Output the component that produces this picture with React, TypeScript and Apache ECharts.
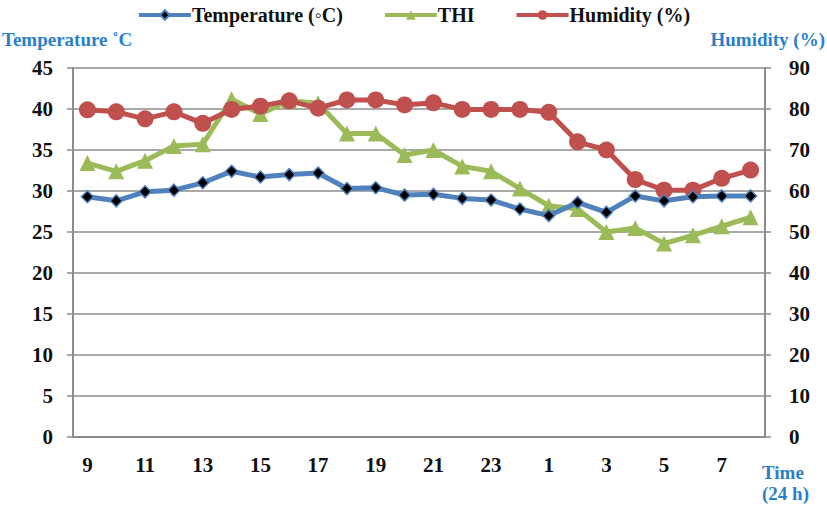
import React, { useEffect, useRef } from "react";
import * as echarts from "echarts";

const hours = ["9","10","11","12","13","14","15","16","17","18","19","20","21","22","23","0","1","2","3","4","5","6","7","8"];
const temperature = [29.3,28.8,29.9,30.1,31.0,32.4,31.7,32.0,32.2,30.3,30.4,29.5,29.6,29.1,28.9,27.8,27.0,28.6,27.4,29.4,28.8,29.3,29.4,29.4];
const thi = [33.4,32.4,33.7,35.5,35.7,41.2,39.4,41.0,40.7,37.0,37.0,34.4,35.0,33.0,32.4,30.3,28.2,27.8,25.0,25.5,23.6,24.6,25.7,26.8];
const humidity = [79.8,79.3,77.6,79.3,76.5,79.9,80.7,82.0,80.2,82.2,82.2,81.0,81.5,79.9,79.9,79.9,79.2,72.0,70.0,62.8,60.2,60.2,63.1,65.1];

const FONT = "'Liberation Serif', 'Times New Roman', serif";
const BLUE = "#4F81BD";
const GREEN = "#9BBB59";
const RED = "#C0504D";
const GRID = "#8c8c8c";
const TITLE = "#2a7fc9";

export default function App() {
  const ref = useRef<HTMLDivElement>(null);
  useEffect(() => {
    const chart = echarts.init(ref.current!, undefined, { renderer: "svg" });
    const label = { fontFamily: FONT, fontSize: 21, fontWeight: "bold", color: "#111" };
    chart.setOption({
      animation: false,
      backgroundColor: "#fff",
      textStyle: { fontFamily: FONT },
      legend: {
        top: 0,
        left: "center",
        itemWidth: 52,
        itemHeight: 12,
        itemGap: 40,
        lineStyle: { width: 4 },
        textStyle: { fontFamily: FONT, fontSize: 20, fontWeight: "bold", color: "#111", padding: [0, 0, 0, -4] },
        data: ["Temperature (◦C)", "THI", "Humidity (%)"],
      },
      grid: { left: 73, right: 62, top: 68, bottom: 74, containLabel: false },
      xAxis: {
        type: "category",
        data: hours,
        boundaryGap: true,
        axisLine: { lineStyle: { color: GRID, width: 2 } },
        axisTick: { interval: 1, length: 6, lineStyle: { color: GRID, width: 1.5 } },
        axisLabel: { interval: 1, margin: 17, ...label },
      },
      yAxis: [
        {
          type: "value",
          min: 0,
          max: 45,
          interval: 5,
          axisLine: { show: true, lineStyle: { color: GRID, width: 2 } },
          axisTick: { show: true, length: 6, lineStyle: { color: GRID, width: 1.5 } },
          axisLabel: { margin: 20, ...label },
          splitLine: { lineStyle: { color: GRID, width: 1.5 } },
        },
        {
          type: "value",
          min: 0,
          max: 90,
          interval: 10,
          position: "right",
          axisLine: { show: true, lineStyle: { color: GRID, width: 2 } },
          axisTick: { show: true, length: 6, lineStyle: { color: GRID, width: 1.5 } },
          axisLabel: { margin: 24, ...label },
          splitLine: { show: false },
        },
      ],
      graphic: [
        { type: "text", left: 2, top: 30, style: { text: "Temperature ˚C", font: `bold 19px ${FONT}`, fill: TITLE } },
        { type: "text", right: 2, top: 30, style: { text: "Humidity (%)", font: `bold 19px ${FONT}`, fill: TITLE } },
        { type: "text", left: 762, top: 462, style: { text: "Time\n(24 h)", font: `bold 19px ${FONT}`, fill: TITLE, lineHeight: 21, align: "left" } },
      ],
      series: [
        {
          name: "Temperature (◦C)",
          type: "line",
          data: temperature,
          yAxisIndex: 0,
          z: 5,
          symbol: "diamond",
          symbolSize: 12,
          lineStyle: { color: BLUE, width: 5 },
          itemStyle: { color: "#000", borderColor: BLUE, borderWidth: 1.5 },
        },
        {
          name: "THI",
          type: "line",
          data: thi,
          yAxisIndex: 0,
          z: 3,
          symbol: "triangle",
          symbolSize: 16,
          lineStyle: { color: GREEN, width: 5 },
          itemStyle: { color: GREEN },
        },
        {
          name: "Humidity (%)",
          type: "line",
          data: humidity,
          yAxisIndex: 1,
          z: 4,
          symbol: "circle",
          symbolSize: 17,
          lineStyle: { color: RED, width: 5 },
          itemStyle: { color: RED },
        },
      ],
    });
    return () => chart.dispose();
  }, []);
  return <div ref={ref} style={{ width: 827, height: 511, position: "absolute", left: 0, top: 0 }} />;
}
